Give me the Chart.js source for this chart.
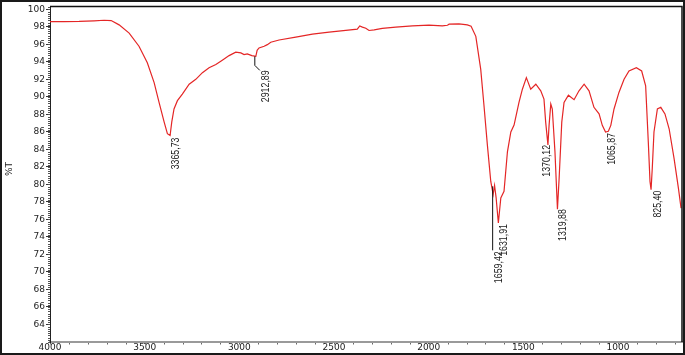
<!DOCTYPE html>
<html>
<head>
<meta charset="utf-8">
<script src="https://cdn.jsdelivr.net/npm/chart.js@4.4.1/dist/chart.umd.min.js"></script>
<style>
  html, body { margin: 0; padding: 0; background: #fff; }
  #wrap { width: 685px; height: 355px; position: relative; }
</style>
</head>
<body>
<div id="wrap"><canvas id="c" width="685" height="355"></canvas></div>
<script>
// ---- data ----
const wavenumbers = [4000, 3926, 3846, 3767, 3714, 3677, 3635, 3582, 3530, 3486, 3450, 3424, 3397, 3380, 3365.73, 3357, 3345, 3327, 3301, 3265, 3230, 3195, 3160, 3124, 3090, 3054, 3019, 2992, 2975, 2958, 2934, 2912.89, 2906, 2896, 2869, 2852, 2834, 2790, 2702, 2614, 2526, 2438, 2377, 2364, 2350, 2332, 2315, 2288, 2245, 2174, 2086, 1998, 1928, 1901, 1892, 1840, 1796, 1776, 1751, 1725, 1708, 1690, 1672, 1659.42, 1652, 1644, 1631.91, 1619, 1602, 1584, 1566, 1549, 1523, 1505, 1484, 1461, 1434, 1408, 1391, 1382, 1370.12, 1364, 1355, 1347, 1333, 1319.88, 1311, 1297, 1285, 1262, 1232, 1206, 1179, 1153, 1127, 1100, 1083, 1065.87, 1051, 1038, 1021, 995, 968, 942, 903, 875, 854, 840, 831, 825.40, 819, 810, 792, 774, 752, 730, 704, 681, 667];
const transmittance = [98.60, 98.59, 98.62, 98.69, 98.76, 98.72, 98.23, 97.29, 95.79, 93.90, 91.64, 89.38, 87.12, 85.80, 85.59, 87.12, 88.62, 89.57, 90.32, 91.45, 92.01, 92.77, 93.33, 93.71, 94.20, 94.72, 95.11, 95.03, 94.84, 94.92, 94.72, 94.63, 95.33, 95.59, 95.79, 95.97, 96.24, 96.50, 96.84, 97.18, 97.40, 97.59, 97.74, 98.11, 97.97, 97.85, 97.59, 97.66, 97.82, 97.97, 98.11, 98.19, 98.11, 98.19, 98.31, 98.34, 98.23, 98.08, 96.92, 93.14, 89.04, 84.52, 80.34, 78.87, 79.89, 78.53, 75.59, 78.45, 79.21, 83.73, 85.99, 86.78, 89.38, 90.88, 92.20, 90.88, 91.45, 90.70, 89.75, 87.12, 84.52, 86.78, 89.19, 88.62, 83.73, 77.18, 80.68, 87.12, 89.38, 90.20, 89.68, 90.70, 91.45, 90.70, 88.81, 88.06, 86.75, 85.99, 86.07, 86.75, 88.62, 90.51, 92.01, 92.96, 93.33, 92.96, 91.27, 84.86, 80.34, 79.40, 81.84, 85.99, 88.62, 88.81, 88.06, 86.36, 82.97, 79.58, 77.29];

const peakWavenumbers = [3365.73, 2912.89, 1659.42, 1631.91, 1370.12, 1319.88, 1065.87, 825.40];
const peakTransmittance = [85.59, 94.63, 78.87, 75.59, 84.52, 77.18, 85.99, 79.40];
const peakLabels = ['3365,73', '2912,89', '1659,42', '1631,91', '1370,12', '1319,88', '1065,87', '825,40'];

const xTickValues = [4000, 3500, 3000, 2500, 2000, 1500, 1000];
const yTickValues = [64, 66, 68, 70, 72, 74, 76, 78, 80, 82, 84, 86, 88, 90, 92, 94, 96, 98, 100];
const axisTitleY = '%T';

// ---- label placement styles (pixel offsets from each peak) ----
const labelStyle = [
  { dx: 5.5, dy: 2 },
  { dx: 10, dy: 14, leader: 'bend' },
  { dx: 6, dy: 57, leader: 'down' },
  { dx: 6, dy: 1 },
  { dx: -1, dy: 0 },
  { dx: 6, dy: 0 },
  { dx: 6, dy: 1 },
  { dx: 6.5, dy: 1 }
];

const points = wavenumbers.map((w, i) => ({ x: w, y: transmittance[i] }));

const decorPlugin = {
  id: 'decor',
  afterDraw(chart) {
    const ctx = chart.ctx;
    const xs = chart.scales.x, ys = chart.scales.y;
    const a = chart.chartArea;
    ctx.save();
    // minor ticks y
    ctx.strokeStyle = '#555';
    ctx.lineWidth = 1;
    ctx.beginPath();
    for (let v = 62; v <= 100.3; v += 0.25) {
      const py = Math.round(ys.getPixelForValue(v)) + 0.5;
      ctx.moveTo(a.left - 2, py); ctx.lineTo(a.left, py);
    }
    ctx.stroke();
    // minor ticks x
    ctx.strokeStyle = '#666';
    ctx.beginPath();
    for (let v = 4000; v >= 700; v -= 100) {
      const px = Math.round(xs.getPixelForValue(v)) + 0.5;
      ctx.moveTo(px, a.bottom + 1); ctx.lineTo(px, a.bottom + 2.5);
    }
    ctx.stroke();
    // plot top and right border
    ctx.strokeStyle = '#111';
    ctx.lineWidth = 1.5;
    ctx.beginPath();
    ctx.moveTo(a.left, a.top); ctx.lineTo(a.right, a.top); ctx.lineTo(a.right, a.bottom);
    ctx.stroke();
    // outer frame
    ctx.strokeStyle = '#1a1a1a';
    ctx.lineWidth = 2;
    ctx.strokeRect(1, 1, chart.width - 2, chart.height - 2);
    // y axis title
    ctx.fillStyle = '#222';
    ctx.font = '9px "DejaVu Sans"';
    ctx.translate(10, 169);
    ctx.rotate(-Math.PI / 2);
    ctx.textAlign = 'center';
    ctx.textBaseline = 'middle';
    ctx.fillText(axisTitleY, 0, 0);
    ctx.restore();

    // peak labels
    ctx.save();
    ctx.strokeStyle = '#111';
    ctx.lineWidth = 1;
    peakWavenumbers.forEach((w, i) => {
      const px = xs.getPixelForValue(w);
      const py = ys.getPixelForValue(peakTransmittance[i]);
      const st = labelStyle[i];
      const cx = px + st.dx, ty = py + st.dy;
      if (st.leader === 'bend') {
        ctx.beginPath();
        ctx.moveTo(px - 1, py);
        ctx.lineTo(px - 1, py + 9);
        ctx.lineTo(px + 4, py + 14);
        ctx.stroke();
      } else if (st.leader === 'down') {
        ctx.beginPath();
        ctx.moveTo(px - 0.5, py - 8);
        ctx.lineTo(px - 0.5, py + 56);
        ctx.stroke();
      }
      ctx.save();
      ctx.translate(cx, ty);
      ctx.rotate(-Math.PI / 2);
      ctx.scale(0.8, 1);
      ctx.fillStyle = '#1a1a1a';
      ctx.font = '11px "Liberation Sans"';
      ctx.textAlign = 'right';
      ctx.textBaseline = 'middle';
      ctx.fillText(peakLabels[i], 0, 0);
      ctx.restore();
    });
    ctx.restore();
  }
};

new Chart(document.getElementById('c'), {
  type: 'line',
  data: {
    datasets: [{
      data: points,
      borderColor: 'rgb(228, 38, 38)',
      borderWidth: 1.2,
      pointRadius: 0,
      tension: 0,
      fill: false
    }]
  },
  options: {
    responsive: false,
    animation: false,
    events: [],
    layout: { padding: { top: 3, right: 3, left: 0, bottom: 0 } },
    plugins: { legend: { display: false }, tooltip: { enabled: false } },
    scales: {
      x: {
        type: 'linear',
        reverse: true,
        min: 662,
        max: 4000,
        afterBuildTicks: (s) => { s.ticks = xTickValues.map(v => ({ value: v })); },
        afterFit: (s) => { s.height = 13; },
        ticks: {
          color: '#222',
          font: { family: 'DejaVu Sans', size: 9 },
          padding: -2,
          maxRotation: 0,
          autoSkip: false,
          callback: (v) => String(v)
        },
        grid: { display: true, drawOnChartArea: false, drawTicks: true, tickLength: 2, color: '#555' },
        border: { display: true, color: '#9a9a9a', width: 2 }
      },
      y: {
        type: 'linear',
        min: 62,
        max: 100.34,
        afterBuildTicks: (s) => { s.ticks = yTickValues.map(v => ({ value: v })); },
        afterFit: (s) => { s.width = 50; },
        ticks: {
          color: '#222',
          font: { family: 'DejaVu Sans', size: 9 },
          padding: 1,
          autoSkip: false,
          callback: (v) => String(v)
        },
        grid: { display: true, drawOnChartArea: false, drawTicks: true, tickLength: 4, color: '#333' },
        border: { display: true, color: '#222', width: 1 }
      }
    }
  },
  plugins: [decorPlugin]
});
</script>
</body>
</html>
